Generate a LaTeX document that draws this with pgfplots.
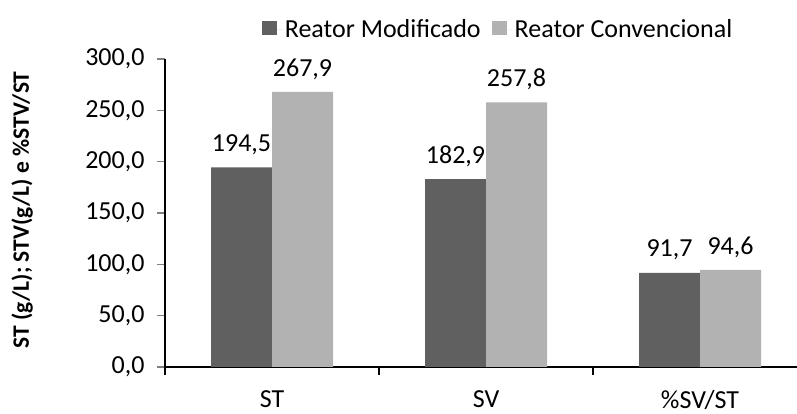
\documentclass[border=0pt]{standalone}
\usepackage{pgfplots}
\pgfplotsset{compat=1.18}
\usepackage{fontspec}
\setmainfont{Carlito}
\definecolor{darkbar}{HTML}{606060}
\definecolor{lightbar}{HTML}{B2B2B2}

\begin{document}
\begin{tikzpicture}[x=1pt,y=1pt]
\path[use as bounding box] (0,0) rectangle (797,414);
\begin{axis}[
  at={(165pt,47pt)}, anchor=south west,
  scale only axis, width=632pt, height=308pt,
  ybar=0pt, bar width=61pt,
  xmin=-0.5, xmax=2.453, ymin=0, ymax=300,
  axis x line*=bottom, axis y line*=left,
  axis line style={line width=1.1pt},
  xtick={0,1,2},
  xticklabels={ST,SV,\%SV/ST},
  xtick style={draw=none},
  extra x ticks={-0.5,0.5,1.5},
  extra x tick labels={},
  extra x tick style={xtick style={draw=black,line width=1.1pt}, major tick length=8pt, tick align=outside},
  ytick={0,50,...,300},
  ytick style={line width=1.1pt},
  major tick length=8pt, tick align=outside,
  yticklabel style={xshift=-9pt, /pgf/number format/.cd, fixed, fixed zerofill, precision=1, use comma, assume math mode=true},
  ticklabel style={font=\fontsize{26}{30}\selectfont},
  xticklabel style={yshift=-12pt},
  every axis y label/.style={at={(axis description cs:-0.226,0.51)}, rotate=90, anchor=center},
  ylabel={\bfseries ST (g/L); STV(g/L) e \%STV/ST},
  ylabel style={font=\fontsize{23.5}{27}\selectfont\bfseries},
  nodes near coords={\pgfmathprintnumber[fixed,fixed zerofill,precision=1,use comma,assume math mode=true]{\pgfplotspointmeta}},
  every node near coord/.append style={font=\fontsize{26}{30}\selectfont, black, yshift=9pt},
  legend style={at={(0.527,1.097)}, anchor=center, draw=none, font=\fontsize{26}{30}\selectfont, legend columns=2, /tikz/every even column/.append style={column sep=9pt}},
  legend image code/.code={\fill[#1] (0pt,-6pt) rectangle (15pt,8pt); \path (0pt,0pt) -- (21pt,0pt);},
]
\addplot[fill=darkbar, draw=none] coordinates {(0,194.5) (1,182.9) (2,91.7)};
\addplot[fill=lightbar, draw=none] coordinates {(0,267.9) (1,257.8) (2,94.6)};
\legend{Reator Modificado, Reator Convencional}
\end{axis}
\end{tikzpicture}
\end{document}
